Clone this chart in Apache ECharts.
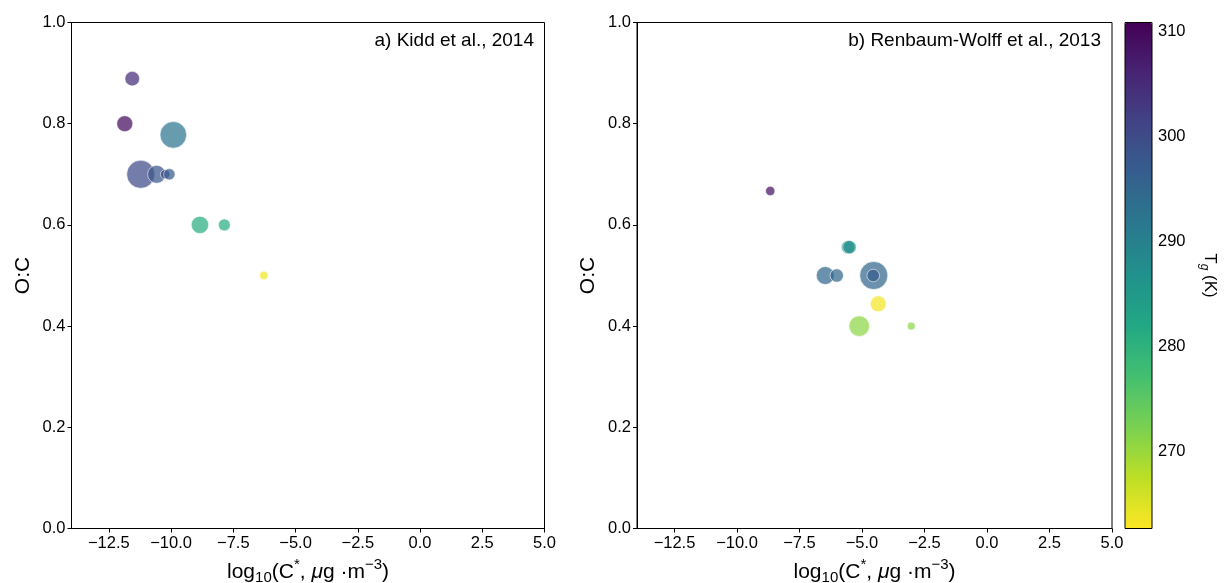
<!DOCTYPE html>
<html>
<head>
<meta charset="utf-8">
<script src="https://cdn.jsdelivr.net/npm/echarts@6/dist/echarts.min.js"></script>
<style>
  html, body { margin: 0; padding: 0; background: #fff; }
  #chart { width: 1224px; height: 583px; }
</style>
</head>
<body>
<div id="chart"></div>
<script>
// a) Kidd et al., 2014
var kiddLogC = [-11.56, -11.86, -9.91, -11.22, -10.58, -10.24, -10.07, -8.84, -7.86, -6.27];
var kiddOC   = [0.889, 0.8, 0.778, 0.7, 0.7, 0.7, 0.7, 0.6, 0.6, 0.5];
var kiddTg   = [305, 309.5, 292, 300, 298, 300, 297, 281, 281, 263.5];
var kiddSize = [7.3, 8, 13.3, 14, 9, 4.7, 5.7, 8.7, 6, 4.3];

// b) Renbaum-Wolff et al., 2013
var renLogC = [-8.67, -5.56, -5.50, -6.47, -6.01, -4.53, -4.55, -4.35, -5.11, -3.03];
var renOC   = [0.667, 0.556, 0.556, 0.5, 0.5, 0.5, 0.5, 0.444, 0.4, 0.4];
var renTg   = [308.5, 287, 287, 295, 295, 295, 297, 263.5, 271, 271];
var renSize = [4.7, 6.7, 6.7, 9, 6.7, 14, 6.3, 8, 10.3, 4];

var xTicks  = [-12.5, -10, -7.5, -5, -2.5, 0, 2.5, 5];
var tgTicks = [270, 280, 290, 300, 310];
var tgMin = 262.7, tgMax = 310.9;

// viridis, low T (yellow) -> high T (purple)
var viridisR = ['#fde725', '#bddf26', '#7ad151', '#44bf70', '#22a884', '#21918c',
                '#2a788e', '#355f8d', '#414487', '#482475', '#440154'];

var FONT = '"Liberation Sans", Arial, sans-serif';

function rows(xs, ys, ss, ts) {
  return xs.map(function (x, i) { return [x, ys[i], ss[i], ts[i]]; });
}
function fmtX(v) { return (v < 0 ? '\u2212' : '') + Math.abs(v).toFixed(1); }

var xName = '{a|log}{sub|10}{a|(C}{sup|*}{a|, }{it|\u03bc}{a|g \u00b7m}{sup|\u22123}{a|)}';
var xNameStyle = {
  color: '#000',
  fontFamily: FONT,
  rich: {
    a:   { fontSize: 21, fontFamily: FONT, color: '#000', lineHeight: 30, verticalAlign: 'middle' },
    it:  { fontSize: 21, fontFamily: FONT, color: '#000', fontStyle: 'italic', lineHeight: 30 },
    sub: { fontSize: 15, fontFamily: FONT, color: '#000', verticalAlign: 'middle', lineHeight: 15, padding: [10, 0, 0, 0] },
    sup: { fontSize: 15, fontFamily: FONT, color: '#000', verticalAlign: 'top', lineHeight: 15, padding: [0, 0, 8, 0] }
  }
};

function xAxisFor(idx) {
  return {
    gridIndex: idx, type: 'value', min: -14, max: 5,
    name: xName, nameLocation: 'middle', nameGap: 29, nameTextStyle: xNameStyle,
    axisLine: { show: true, onZero: false, lineStyle: { color: '#000', width: 1 } },
    axisTick: { show: true, customValues: xTicks, length: 4, lineStyle: { color: '#000' } },
    axisLabel: { customValues: xTicks, formatter: fmtX, color: '#000', fontSize: 16.5, fontFamily: FONT, margin: 6 },
    splitLine: { show: false }
  };
}
function yAxisFor(idx) {
  return {
    gridIndex: idx, type: 'value', min: 0, max: 1, interval: 0.2,
    name: 'O:C', nameLocation: 'middle', nameGap: 38,
    nameTextStyle: { color: '#000', fontSize: 21, fontFamily: FONT },
    axisLine: { show: true, onZero: false, lineStyle: { color: '#000', width: 1 } },
    axisTick: { show: true, length: 4, lineStyle: { color: '#000' } },
    axisLabel: { formatter: function (v) { return v.toFixed(1); }, color: '#000', fontSize: 16.5, fontFamily: FONT, margin: 6 },
    splitLine: { show: false }
  };
}
function scatterFor(idx, data) {
  return {
    type: 'scatter', xAxisIndex: idx, yAxisIndex: idx, data: data,
    symbolSize: function (v) { return 2 * v[2]; },
    itemStyle: { opacity: 0.72, borderColor: '#fff', borderWidth: 0.8 },
    emphasis: { disabled: true }
  };
}

var chart = echarts.init(document.getElementById('chart'), null, { renderer: 'canvas' });
chart.setOption({
  backgroundColor: '#fff',
  animation: false,
  textStyle: { fontFamily: FONT },
  title: [
    { text: 'a) Kidd et al., 2014', right: 1224 - 534, top: 31, padding: 0,
      textStyle: { fontSize: 19, fontWeight: 'normal', color: '#000', fontFamily: FONT } },
    { text: 'b) Renbaum-Wolff et al., 2013', right: 1224 - 1101, top: 31, padding: 0,
      textStyle: { fontSize: 19, fontWeight: 'normal', color: '#000', fontFamily: FONT } }
  ],
  grid: [
    { left: 71.5, top: 22.5, width: 473, height: 506, outerBoundsMode: 'none', containLabel: false,
      show: true, borderColor: '#000', borderWidth: 1 },
    { left: 637, top: 22.5, width: 475, height: 506, outerBoundsMode: 'none', containLabel: false,
      show: true, borderColor: '#000', borderWidth: 1 },
    { left: 1125, top: 22.5, width: 27, height: 506, outerBoundsMode: 'none', containLabel: false, show: false }
  ],
  xAxis: [
    xAxisFor(0),
    xAxisFor(1),
    { gridIndex: 2, type: 'value', show: false }
  ],
  yAxis: [
    yAxisFor(0),
    yAxisFor(1),
    {
      gridIndex: 2, type: 'value', min: tgMin, max: tgMax, position: 'right',
      name: '{a|T}{sub|g}{a| (K)}', nameLocation: 'middle', nameRotate: -90, nameGap: 46,
      nameTextStyle: {
        color: '#000', fontFamily: FONT,
        rich: {
          a:   { fontSize: 17, fontFamily: FONT, color: '#000', lineHeight: 24 },
          sub: { fontSize: 12, fontFamily: FONT, color: '#000', fontStyle: 'italic', verticalAlign: 'bottom', lineHeight: 12, padding: [8, 0, 0, 0] }
        }
      },
      axisLine: { show: false },
      axisTick: { show: true, customValues: tgTicks, length: 4, lineStyle: { color: '#000' } },
      axisLabel: { customValues: tgTicks, color: '#000', fontSize: 16.5, fontFamily: FONT, margin: 6 },
      splitLine: { show: false }
    }
  ],
  visualMap: {
    type: 'continuous', min: tgMin, max: tgMax, dimension: 3, seriesIndex: [0, 1],
    left: 1125, top: 22.5, itemWidth: 27, itemHeight: 506, padding: 0,
    text: null, showLabel: false, calculable: false, hoverLink: false,
    inRange: { color: viridisR }
  },
  graphic: [
    { type: 'rect', z: 100, silent: true,
      shape: { x: 1125, y: 22.5, width: 27, height: 506 },
      style: { fill: 'none', stroke: '#000', lineWidth: 1 } }
  ],
  series: [
    scatterFor(0, rows(kiddLogC, kiddOC, kiddSize, kiddTg)),
    scatterFor(1, rows(renLogC, renOC, renSize, renTg))
  ]
});
</script>
</body>
</html>
